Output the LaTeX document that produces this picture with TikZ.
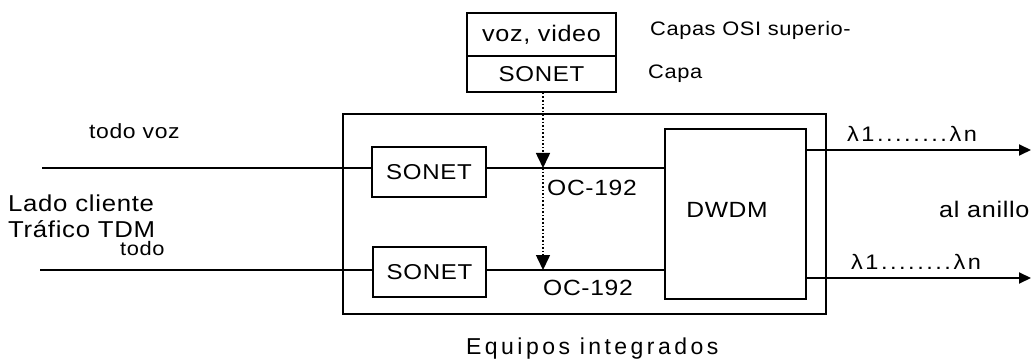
\documentclass[tikz,border=0pt]{standalone}
\usepackage{fontspec}
\setmainfont{Liberation Sans}[LetterSpace=3, FakeStretch=1.12]
\newfontfamily\widefont{Liberation Sans}[LetterSpace=15]
\newfontfamily\lamfont{Liberation Sans}[LetterSpace=12, FakeStretch=1.12]
\usetikzlibrary{arrows.meta}
\newcommand{\fsz}[1]{\fontsize{#1}{#1}\selectfont}
\tikzset{
  box/.style={draw, line width=1.6pt, rectangle, inner sep=0pt, font=\fsz{21.5}},
  lbl/.style={inner sep=0pt, font=\fsz{22}},
  lam/.style={inner sep=0pt, font=\fsz{21}\lamfont},
  wire/.style={line width=1.8pt},
  outarrow/.style={line width=1.8pt, -{Triangle[length=12pt,width=11pt]}},
  dotarrow/.style={line width=1.6pt, dotted, -{Triangle[length=15pt,width=14pt]}}
}
\begin{document}
\begin{tikzpicture}[x=1pt,y=-1pt]
\useasboundingbox (0,0) rectangle (1035,363);
% upper layer boxes
\node[box, minimum width=149pt, minimum height=43pt, font=\fsz{22.5}] (voz) at (541.5,34.5) {voz, video};
\node[box, minimum width=149pt, minimum height=36pt] (sonetup) at (541.5,74) {SONET};
% integrated equipment
\node[box, minimum width=483pt, minimum height=200pt] (outer) at (584.5,214) {};
\node[box, minimum width=114pt, minimum height=50pt] (sonet1) at (429,172) {SONET};
\node[box, minimum width=113pt, minimum height=50pt] (sonet2) at (429.5,272) {SONET};
\node[box, minimum width=141pt, minimum height=170pt] (dwdm) at (735.5,214) {};
\node[lbl] (dwdmtxt) at (727,210) {DWDM};
% coordinates
\coordinate (l1) at (42,168);
\coordinate (l2) at (40,270);
\coordinate (a1) at (543,168);
\coordinate (a2) at (543,270);
\coordinate (r1) at (1031,150);
\coordinate (r2) at (1031,278);
% wires
\draw[wire] (l1) -- (sonet1.west |- l1);
\draw[wire] (l2) -- (sonet2.west |- l2);
\draw[wire] (sonet1.east |- a1) -- (dwdm.west |- a1);
\draw[wire] (sonet2.east |- a2) -- (dwdm.west |- a2);
\draw[outarrow] (dwdm.east |- r1) -- (r1);
\draw[outarrow] (dwdm.east |- r2) -- (r2);
% dotted arrows
\draw[dotarrow] (sonetup.south -| a1) -- (a1);
\draw[dotarrow] (a1) -- (a2);
% labels
\node[lbl, anchor=west, font=\fsz{19.5}] (capas) at (650,30) {Capas OSI superio-};
\node[lbl, anchor=west, font=\fsz{19.5}] (capa) at (648,74) {Capa};
\node[lbl, anchor=west, font=\fsz{20.5}] (todovoz) at (89,131) {todo voz};
\node[lbl, anchor=west, font=\fsz{23}] (lado) at (8,203) {Lado cliente};
\node[lbl, anchor=west, font=\fsz{23}] (trafico) at (8,229) {Tráfico TDM};
\node[lbl, anchor=west, font=\fsz{19.5}] (todo) at (120,249) {todo};
\node[lbl, anchor=west] (oc1) at (547,188) {OC-192};
\node[lbl, anchor=west] (oc2) at (543,288) {OC-192};
\node[lam, anchor=west] (lam1) at (847,134) {λ1........λn};
\node[lam, anchor=west] (lam2) at (851,262) {λ1........λn};
\node[lbl, anchor=west, font=\fsz{22.5}] (anillo) at (939,209) {al anillo};
\node[lbl, anchor=west, font=\fsz{23}\widefont] (equipos) at (466,349) {Equipos integrados};
\end{tikzpicture}
\end{document}
